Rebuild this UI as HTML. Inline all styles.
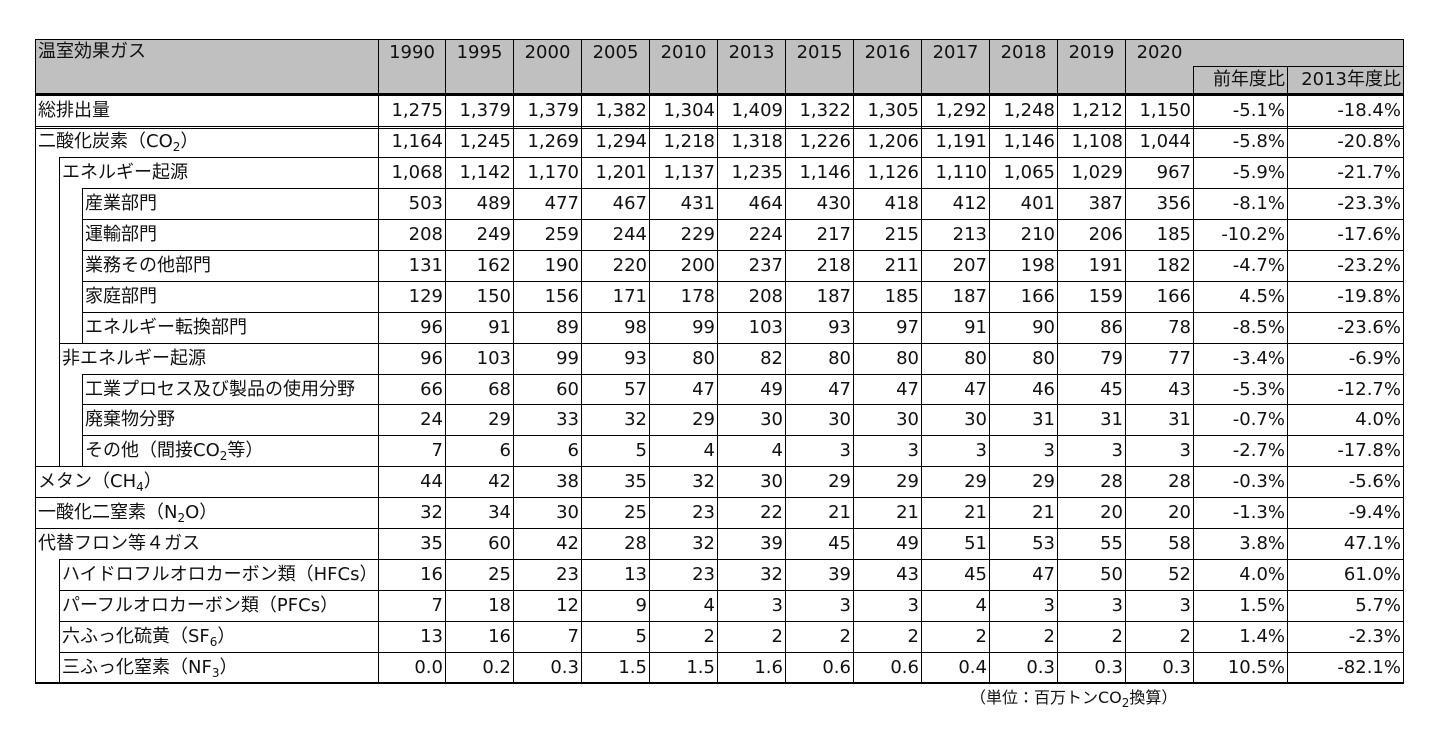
<!DOCTYPE html>
<html><head><meta charset="utf-8">
<style>
body{margin:0;width:1440px;height:740px;background:#fff;overflow:hidden;font-family:"DejaVu Sans","Noto Sans CJK JP",sans-serif;color:#111;}
#t{position:absolute;left:0;top:0;width:1440px;height:740px;}
.c{position:absolute;box-sizing:border-box;font-size:18px;line-height:30px;white-space:nowrap;}
.l{position:absolute;background:#000;}
sub{font-size:12px;vertical-align:-4px;line-height:0;}
</style></head><body>
<div id="t"></div>
<div class="c" style="left:970px;top:683px;font-size:16px;">（単位：百万トンCO<sub>2</sub>換算）</div>
<script>
const years=["1990","1995","2000","2005","2010","2013","2015","2016","2017","2018","2019","2020"];
const labels=["総排出量","二酸化炭素（CO<sub>2</sub>）","エネルギー起源","産業部門","運輸部門","業務その他部門","家庭部門","エネルギー転換部門","非エネルギー起源","工業プロセス及び製品の使用分野","廃棄物分野","その他（間接CO<sub>2</sub>等）","メタン（CH<sub>4</sub>）","一酸化二窒素（N<sub>2</sub>O）","代替フロン等４ガス","ハイドロフルオロカーボン類（HFCs）","パーフルオロカーボン類（PFCs）","六ふっ化硫黄（SF<sub>6</sub>）","三ふっ化窒素（NF<sub>3</sub>）"];
const levels=[0,0,1,2,2,2,2,2,1,2,2,2,0,0,0,1,1,1,1];
const values=[
["1,275","1,379","1,379","1,382","1,304","1,409","1,322","1,305","1,292","1,248","1,212","1,150"],
["1,164","1,245","1,269","1,294","1,218","1,318","1,226","1,206","1,191","1,146","1,108","1,044"],
["1,068","1,142","1,170","1,201","1,137","1,235","1,146","1,126","1,110","1,065","1,029","967"],
["503","489","477","467","431","464","430","418","412","401","387","356"],
["208","249","259","244","229","224","217","215","213","210","206","185"],
["131","162","190","220","200","237","218","211","207","198","191","182"],
["129","150","156","171","178","208","187","185","187","166","159","166"],
["96","91","89","98","99","103","93","97","91","90","86","78"],
["96","103","99","93","80","82","80","80","80","80","79","77"],
["66","68","60","57","47","49","47","47","47","46","45","43"],
["24","29","33","32","29","30","30","30","30","31","31","31"],
["7","6","6","5","4","4","3","3","3","3","3","3"],
["44","42","38","35","32","30","29","29","29","29","28","28"],
["32","34","30","25","23","22","21","21","21","21","20","20"],
["35","60","42","28","32","39","45","49","51","53","55","58"],
["16","25","23","13","23","32","39","43","45","47","50","52"],
["7","18","12","9","4","3","3","3","4","3","3","3"],
["13","16","7","5","2","2","2","2","2","2","2","2"],
["0.0","0.2","0.3","1.5","1.5","1.6","0.6","0.6","0.4","0.3","0.3","0.3"]];
const prevRatio=["-5.1%","-5.8%","-5.9%","-8.1%","-10.2%","-4.7%","4.5%","-8.5%","-3.4%","-5.3%","-0.7%","-2.7%","-0.3%","-1.3%","3.8%","4.0%","1.5%","1.4%","10.5%"];
const ratio2013=["-18.4%","-20.8%","-21.7%","-23.3%","-17.6%","-23.2%","-19.8%","-23.6%","-6.9%","-12.7%","4.0%","-17.8%","-5.6%","-9.4%","47.1%","61.0%","5.7%","-2.3%","-82.1%"];

const T=document.getElementById('t');
const X=[378,445,513,581,649,717,785,853,921,989,1057,1125,1193,1287,1403];
const IND=[35,59,82];
const TOP=39,HB=95,RH=(683-95)/19,L=35,R=1403;
function line(x,y,w,h,name){const d=document.createElement('div');d.className='l';d.style.cssText=`left:${x}px;top:${y}px;width:${w}px;height:${h}px`;


T.appendChild(d);}
function cell(x,y,w,html,align,name){const d=document.createElement('div');d.className='c';
d.style.cssText=`left:${x}px;top:${y}px;width:${w}px;text-align:${align};padding:0 2px 0 3px;`;d.innerHTML=html;


T.appendChild(d);return d;}
const hb=document.createElement('div');hb.style.cssText=`position:absolute;left:${L}px;top:${TOP}px;width:${R-L}px;height:${HB-TOP}px;background:#c0c0c0`;


T.appendChild(hb);
cell(L,TOP-2,300,"温室効果ガス","left",'header-gas');
years.forEach((y,i)=>{cell(X[i],TOP-1,X[i+1]-X[i],y,"center",'header-year-'+y);});
cell(X[12],65,X[13]-X[12],"前年度比","right",'header-prev-ratio');
cell(X[13],65,X[14]-X[13],"2013年度比","right",'header-2013-ratio');
line(L,TOP,R-L,1,'table-top-border');
line(X[12],66,R-X[12],1,'subheader-line');
line(L,HB-2,R-L,2,'header-bottom-border');
for(let i=0;i<12;i++)line(X[i],TOP,1,HB-TOP,'header-divider');
line(X[12],66,1,HB-66,'header-divider');line(X[13],66,1,HB-66,'header-divider');
labels.forEach((lab,r)=>{
  const y=HB+r*RH, x0=IND[levels[r]];
  line(x0,Math.round(y),R-x0,1,'row-border');
  for(let k=1;k<=levels[r];k++)line(IND[k],Math.round(y),1,Math.ceil(RH)+1,'indent-border');
  cell(x0,y+1,X[0]-x0,lab,"left",'row-label');
  values[r].forEach((v,i)=>{cell(X[i],y+1,X[i+1]-X[i],v,"right",'value-'+years[i]);});
  cell(X[12],y+1,X[13]-X[12],prevRatio[r],"right",'prev-ratio');
  cell(X[13],y+1,X[14]-X[13],ratio2013[r],"right",'ratio-2013');
});
line(L,Math.round(HB+RH)+2,R-L,1,'double-line');
for(let i=0;i<14;i++)line(X[i],HB,1,683-HB,'column-divider');
line(L,TOP,1,683-TOP,'table-left-border');
line(R,TOP,1,683-TOP,'table-right-border');
line(L,682,R-L+1,2,'table-bottom-border');
</script>
</body></html>
